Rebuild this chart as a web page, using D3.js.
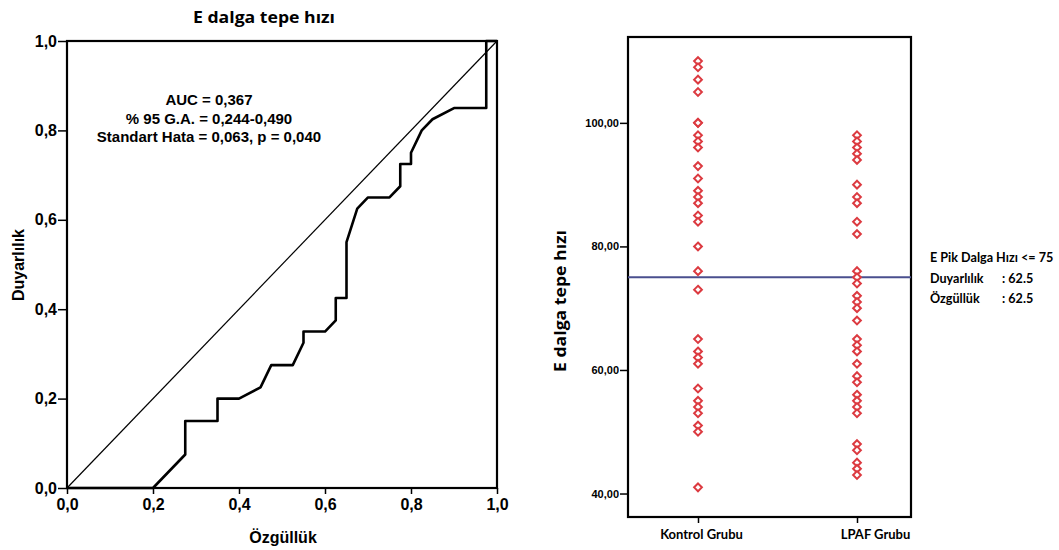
<!DOCTYPE html>
<html>
<head>
<meta charset="utf-8">
<script src="https://cdn.jsdelivr.net/npm/d3@7"></script>
<style>
  body { margin: 0; background: #fff; }
  svg { display: block; }
  .tick text { font-family: "Liberation Sans Narrow", "Liberation Sans", Arial, sans-serif; font-weight: bold; fill: #000; }
</style>
</head>
<body>
<div id="chart"></div>
<script>
// ROC curve points (1 - specificity, sensitivity)
const rocX = [0, 0.2, 0.275, 0.275, 0.35, 0.35, 0.4, 0.45, 0.475, 0.525, 0.55, 0.55, 0.6, 0.625, 0.625, 0.65, 0.65, 0.675, 0.7, 0.75, 0.775, 0.775, 0.8, 0.8, 0.825, 0.85, 0.9, 0.975, 0.975, 1];
const rocY = [0, 0, 0.075, 0.15, 0.15, 0.2, 0.2, 0.225, 0.275, 0.275, 0.325, 0.35, 0.35, 0.375, 0.425, 0.425, 0.55, 0.625, 0.65, 0.65, 0.675, 0.725, 0.725, 0.75, 0.8, 0.825, 0.85, 0.85, 1, 1];
const rocTicks = [0, 0.2, 0.4, 0.6, 0.8, 1];
const rocNotes = ["AUC = 0,367", "% 95 G.A. = 0,244-0,490", "Standart Hata = 0,063, p = 0,040"];

// dot plot values
const groups = ["Kontrol Grubu", "LPAF Grubu"];
const kontrolValues = [110, 109, 107, 105, 100, 100, 98, 97, 96, 93, 91, 89, 88, 87, 85, 84, 80, 76, 73, 65, 63, 62, 61, 57, 55, 54, 53, 51, 50, 41];
const lpafValues = [98, 97, 96, 95, 94, 90, 88, 87, 84, 82, 76, 75, 74, 72, 71, 70, 68, 65, 64, 63, 61, 59, 58, 56, 55, 54, 53, 48, 47, 45, 44, 43];
const valueTicks = [40, 60, 80, 100];
const cutoff = 75;
const cutoffNotes = [["E Pik Dalga Hızı <= 75", ""], ["Duyarlılık", ": 62.5"], ["Özgüllük", ": 62.5"]];

const comma = f => v => f(v).replace(".", ",");

const svg = d3.select("#chart").append("svg")
    .attr("width", 1059)
    .attr("height", 550);

// ---------- left: ROC curve ----------
const x1 = d3.scaleLinear().domain([0, 1]).range([67, 497]);
const y1 = d3.scaleLinear().domain([0, 1]).range([488, 41]);

svg.append("text")
    .attr("x", 264).attr("y", 23)
    .attr("text-anchor", "middle")
    .style("font-family", "'Open Sans', sans-serif")
    .style("font-weight", "bold")
    .style("font-size", "16px")
    .attr("textLength", 142).attr("lengthAdjust", "spacingAndGlyphs")
    .text("E dalga tepe hızı");

svg.append("g")
    .attr("transform", "translate(0,488)")
    .call(d3.axisBottom(x1).tickValues(rocTicks).tickSize(6).tickPadding(5).tickFormat(comma(d3.format(".1f"))))
    .call(g => g.select(".domain").remove())
    .call(g => g.selectAll(".tick line").attr("stroke", "#000").attr("stroke-width", 1.5))
    .call(g => g.selectAll(".tick text").style("font-size", "16px"));

svg.append("g")
    .attr("transform", "translate(67,0)")
    .call(d3.axisLeft(y1).tickValues(rocTicks).tickSize(9).tickPadding(1).tickFormat(comma(d3.format(".1f"))))
    .call(g => g.select(".domain").remove())
    .call(g => g.selectAll(".tick line").attr("stroke", "#000").attr("stroke-width", 1.5))
    .call(g => g.selectAll(".tick text").style("font-size", "16px"));

svg.append("rect")
    .attr("x", x1(0)).attr("y", y1(1))
    .attr("width", x1(1) - x1(0)).attr("height", y1(0) - y1(1))
    .attr("fill", "none").attr("stroke", "#000").attr("stroke-width", 2.2);

// reference diagonal
svg.append("line")
    .attr("x1", x1(0)).attr("y1", y1(0))
    .attr("x2", x1(1)).attr("y2", y1(1))
    .attr("stroke", "#000").attr("stroke-width", 1.2);

const rocPoints = rocX.map((v, i) => [v, rocY[i]]);
svg.append("path")
    .datum(rocPoints)
    .attr("fill", "none")
    .attr("stroke", "#000")
    .attr("stroke-width", 2.6)
    .attr("stroke-linejoin", "round")
    .attr("d", d3.line().x(d => x1(d[0])).y(d => y1(d[1])));

svg.append("g").selectAll("text")
    .data(rocNotes)
    .enter()
    .append("text")
    .attr("x", 209)
    .attr("y", (d, i) => 105 + i * 18.5)
    .attr("text-anchor", "middle")
    .style("font-family", "'Liberation Sans', Arial, sans-serif")
    .style("font-weight", "bold")
    .style("font-size", "15px")
    .text(d => d);

svg.append("text")
    .attr("x", 283).attr("y", 543)
    .attr("text-anchor", "middle")
    .style("font-family", "'Liberation Sans', Arial, sans-serif")
    .style("font-weight", "bold")
    .style("font-size", "16px")
    .text("Özgüllük");

svg.append("text")
    .attr("transform", "translate(24,265) rotate(-90)")
    .attr("text-anchor", "middle")
    .style("font-family", "'Liberation Sans', Arial, sans-serif")
    .style("font-weight", "bold")
    .style("font-size", "16px")
    .text("Duyarlılık");

// ---------- right: dot plot ----------
const x2 = d3.scalePoint().domain(groups).range([698, 857]);
const y2 = d3.scaleLinear().domain([36.2, 113.9]).range([517, 37]);

svg.append("g")
    .attr("transform", "translate(628,0)")
    .call(d3.axisLeft(y2).tickValues(valueTicks).tickSize(8).tickPadding(1).tickFormat(comma(d3.format(".2f"))))
    .call(g => g.select(".domain").remove())
    .call(g => g.selectAll(".tick line").attr("stroke", "#000").attr("stroke-width", 1.5))
    .call(g => g.selectAll(".tick text").style("font-size", "11px"));

svg.append("g")
    .attr("transform", "translate(0,517)")
    .call(d3.axisBottom(x2).tickSize(6).tickPadding(7))
    .call(g => g.select(".domain").remove())
    .call(g => g.selectAll(".tick line").attr("stroke", "#000").attr("stroke-width", 1.5))
    .call(g => g.selectAll(".tick text")
        .style("font-family", "Lato, sans-serif")
        .style("font-size", "13px")
        .attr("dx", (d, i) => i === 1 ? 18 : 3));

svg.append("rect")
    .attr("x", 628).attr("y", y2.range()[1])
    .attr("width", 911 - 628).attr("height", y2.range()[0] - y2.range()[1])
    .attr("fill", "none").attr("stroke", "#000").attr("stroke-width", 2.2);

svg.append("text")
    .attr("transform", "translate(566,301) rotate(-90)")
    .attr("text-anchor", "middle")
    .style("font-family", "'Open Sans', sans-serif")
    .style("font-weight", "bold")
    .style("font-size", "16px")
    .attr("textLength", 142).attr("lengthAdjust", "spacingAndGlyphs")
    .text("E dalga tepe hızı");

const diamond = {
    draw(ctx, size) {
        const r = Math.sqrt(size / 2);
        ctx.moveTo(0, -r);
        ctx.lineTo(r, 0);
        ctx.lineTo(0, r);
        ctx.lineTo(-r, 0);
        ctx.closePath();
    }
};
const dots = [
    ...kontrolValues.map(v => ({ group: groups[0], value: v })),
    ...lpafValues.map(v => ({ group: groups[1], value: v }))
];

svg.append("line")
    .attr("x1", 628).attr("x2", 911)
    .attr("y1", y2(cutoff)).attr("y2", y2(cutoff))
    .attr("stroke", "#4a4f8e").attr("stroke-width", 2);

svg.append("g").selectAll("path")
    .data(dots)
    .enter()
    .append("path")
    .attr("transform", d => "translate(" + x2(d.group) + "," + y2(d.value) + ")")
    .attr("d", d3.symbol().type(diamond).size(30))
    .attr("fill", "#fff")
    .attr("stroke", "#dc3a40")
    .attr("stroke-width", 2);

const note = svg.append("g")
    .style("font-family", "Lato, sans-serif")
    .style("font-weight", "bold")
    .style("font-size", "12.6px");
note.selectAll("text.lbl")
    .data(cutoffNotes)
    .enter()
    .append("text")
    .attr("class", "lbl")
    .attr("x", 930)
    .attr("y", (d, i) => 262 + i * 20.5)
    .text(d => d[0]);
note.selectAll("text.val")
    .data(cutoffNotes.filter(d => d[1]))
    .enter()
    .append("text")
    .attr("class", "val")
    .attr("x", 1002)
    .attr("y", (d, i) => 282.5 + i * 20.5)
    .text(d => d[1]);
</script>
</body>
</html>
